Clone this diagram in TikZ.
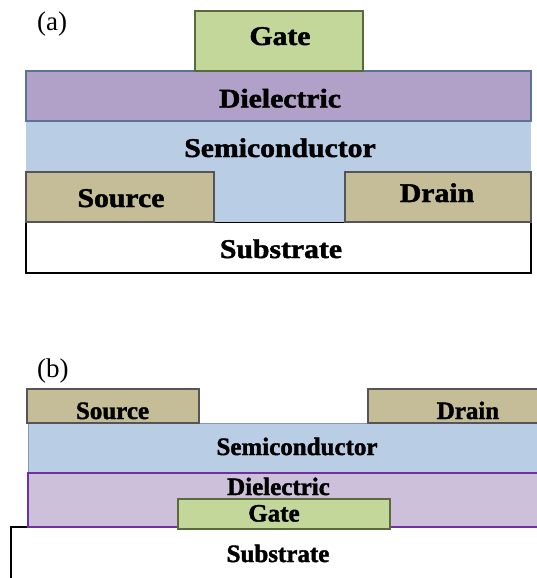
\documentclass[tikz,border=0pt]{standalone}
\usepackage{fontspec}
\setmainfont{Liberation Serif}[BoldFeatures={FakeBold=1.6}]
\definecolor{gatefill}{HTML}{C4D79B}
\definecolor{gateline}{HTML}{5A6A3C}
\definecolor{dielA}{HTML}{B1A0C7}
\definecolor{dielAline}{HTML}{5A7396}
\definecolor{dielB}{HTML}{CCC0DA}
\definecolor{dielBline}{HTML}{7030A0}
\definecolor{semifill}{HTML}{B9CDE5}
\definecolor{semiline}{HTML}{7F9BBD}
\definecolor{sdfill}{HTML}{C4BD97}
\definecolor{sdline}{HTML}{555555}
\begin{document}
\begin{tikzpicture}[x=1pt,y=-1pt,
  gatebox/.style={fill=gatefill,draw=gateline,line width=1.1pt},
  dielabox/.style={fill=dielA,draw=dielAline,line width=1.1pt},
  dielbbox/.style={fill=dielB,draw=dielBline,line width=1.1pt},
  semibox/.style={fill=semifill,draw=none},
  sdbox/.style={fill=sdfill,draw=sdline,line width=1.1pt},
  subbox/.style={fill=white,draw=black,line width=1.2pt},
  lblA/.style={anchor=base,inner sep=0pt,font=\bfseries\fontsize{27}{30}\selectfont,xscale=1.1},
  lblB/.style={anchor=base,inner sep=0pt,font=\bfseries\fontsize{25}{28}\selectfont},
  tag/.style={anchor=base west,inner sep=0pt,font=\fontsize{27}{30}\selectfont}]
\clip (0,0) rectangle (537,578);
\fill[white] (0,0) rectangle (537,578);
% ---------- (a) ----------
\node[tag] (taga) at (37,31) {(a)};
\draw[subbox] (26,222) rectangle (531,273);
\draw[semibox] (26,121) rectangle (531,222);
\draw[sdbox] (26,172) rectangle (214,222);
\draw[sdbox] (345,172) rectangle (531,222);
\draw[dielabox] (26,71) rectangle (531,121);
\draw[gatebox] (195,11) rectangle (363,71);
\node[lblA] (gatea) at (280,45) {Gate};
\node[lblA] (diela) at (280,107.5) {Dielectric};
\node[lblA] (semia) at (280,157) {Semiconductor};
\node[lblA] (srca) at (121,207) {Source};
\node[lblA] (drna) at (437,202) {Drain};
\node[lblA] (suba) at (281,258) {Substrate};
% ---------- (b) ----------
\node[tag] (tagb) at (37,377) {(b)};
\draw[subbox] (11,590) -- (11,527) -- (550,527);
\draw[dielbbox] (28,473) rectangle (550,527);
\draw[semibox] (28,423) rectangle (550,473);
\draw[semiline,line width=1pt] (28,473) -- (28,423) -- (550,423);
\draw[dielBline,line width=1.1pt] (28,473) -- (550,473);
\draw[sdbox] (27,389) rectangle (199,423);
\draw[sdbox] (368,389) rectangle (550,423);
\draw[gatebox] (178,499) rectangle (390,529);
\node[lblB] (srcb) at (112.5,419) {Source};
\node[lblB] (drnb) at (468,419) {Drain};
\node[lblB] (semib) at (297,455) {Semiconductor};
\node[lblB] (dielb) at (278.5,495) {Dielectric};
\node[lblB] (gateb) at (274,521.5) {Gate};
\node[lblB] (subb) at (278,562) {Substrate};
\end{tikzpicture}
\end{document}
